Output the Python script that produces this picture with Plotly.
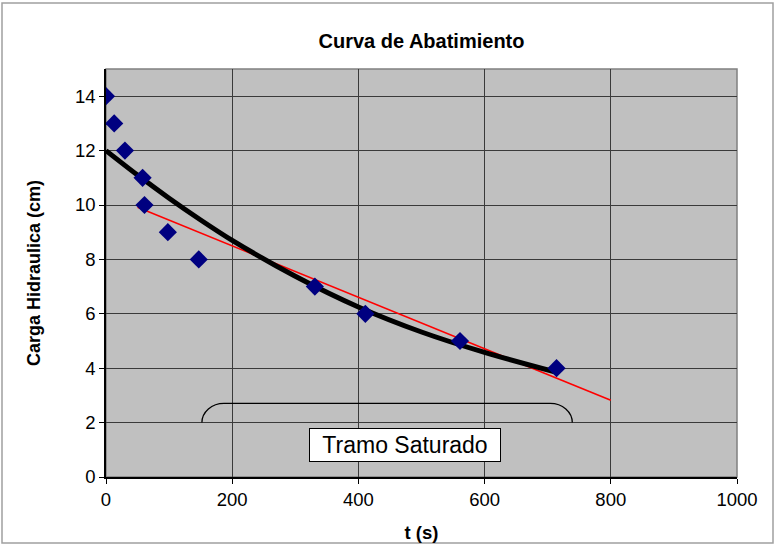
import plotly.graph_objects as go

# Measured data points
t_data = [0, 13, 30, 58, 61, 98, 147, 331, 411, 561, 714]
h_data = [14, 13, 12, 11, 10, 9, 8, 7, 6, 5, 4]

# Trend curve (black)
t_curve = [0, 50, 100, 150, 200, 300, 400, 500, 600, 714]
h_curve = [12.0, 11.1, 10.25, 9.45, 8.7, 7.38, 6.25, 5.33, 4.58, 3.85]

# Linear fit of saturated segment (red)
t_line = [50, 800]
h_line = [9.92, 2.82]

# Brace marking the saturated segment
brace_t = [152, 739]
brace_low, brace_high = 2.0, 2.71
label_text = "Tramo Saturado"
label_t, label_h = 474, 1.17

FONT = "Liberation Sans, Arial, sans-serif"

fig = go.Figure()
fig.add_trace(go.Scatter(x=t_line, y=h_line, mode="lines",
                         line=dict(color="#ff0000", width=1.6), showlegend=False))
fig.add_trace(go.Scatter(x=t_curve, y=h_curve, mode="lines",
                         line=dict(color="#000000", width=5, shape="spline", smoothing=0.8),
                         showlegend=False))
fig.add_trace(go.Scatter(x=t_data, y=h_data, mode="markers",
                         marker=dict(symbol="diamond", size=14, color="#000080",
                                     line=dict(width=0)), showlegend=False))

# brace path
rx = 35
ry = brace_high - brace_low
k = 0.552
a, b = brace_t
path = (f"M {a},{brace_low} C {a},{brace_low + k*ry} {a + rx - k*rx},{brace_high} {a + rx},{brace_high} "
        f"L {b - rx},{brace_high} C {b - rx + k*rx},{brace_high} {b},{brace_low + k*ry} {b},{brace_low}")
fig.add_shape(type="path", path=path, xref="x", yref="y",
              line=dict(color="#000000", width=1.3))

# plot area frame (gray top/right)
fig.add_shape(type="rect", xref="paper", yref="paper", x0=0, y0=0, x1=1, y1=1,
              line=dict(color="#808080", width=1.5), layer="below")
# outer chart border
W, H = 776, 546
L, R, T, B = 106, 39, 69, 69
pw, ph = W - L - R, H - T - B
fig.add_shape(type="rect", xref="paper", yref="paper",
              x0=(2 - L) / pw, x1=(773 - L) / pw,
              y0=(H - B - 543) / ph, y1=(H - B - 3) / ph,
              line=dict(color="#a0a0a0", width=1.5), layer="below")

fig.add_annotation(x=label_t, y=label_h, xref="x", yref="y", text=label_text,
                   showarrow=False, font=dict(family=FONT, size=23, color="#000000"),
                   bgcolor="#ffffff", bordercolor="#000000", borderwidth=1,
                   borderpad=0, width=190, height=32)

fig.update_layout(
    width=W, height=H,
    margin=dict(l=L, r=R, t=T, b=B),
    paper_bgcolor="#ffffff",
    plot_bgcolor="#c0c0c0",
    font=dict(family=FONT, color="#000000"),
    title=dict(text="<b>Curva de Abatimiento</b>", x=0.5, xref="paper", xanchor="center",
               y=1 - 41 / H, yanchor="middle", font=dict(size=20, family=FONT)),
    xaxis=dict(range=[0, 1000], tickvals=[0, 200, 400, 600, 800, 1000], automargin=False,
               showgrid=True, gridcolor="#3a3a3a", gridwidth=1,
               showline=True, linecolor="#000000", linewidth=1.5,
               ticks="outside", ticklen=5, tickcolor="#000000",
               tickfont=dict(size=18.5, family=FONT), zeroline=False,
               title=dict(text="<b>t (s)</b>", font=dict(size=18.5, family=FONT), standoff=17)),
    yaxis=dict(range=[0, 15], tickvals=[0, 2, 4, 6, 8, 10, 12, 14], automargin=False,
               showgrid=True, gridcolor="#3a3a3a", gridwidth=1,
               showline=True, linecolor="#000000", linewidth=1.5,
               ticks="outside", ticklen=5, tickcolor="#000000",
               tickfont=dict(size=18.5, family=FONT), zeroline=False,
               title=dict(text="<b>Carga Hidraulica (cm)</b>", font=dict(size=18, family=FONT), standoff=30)),
)

fig.write_html("out.html", config={"displayModeBar": False},
               post_script="document.body.style.margin='0';document.body.style.overflow='hidden';")
